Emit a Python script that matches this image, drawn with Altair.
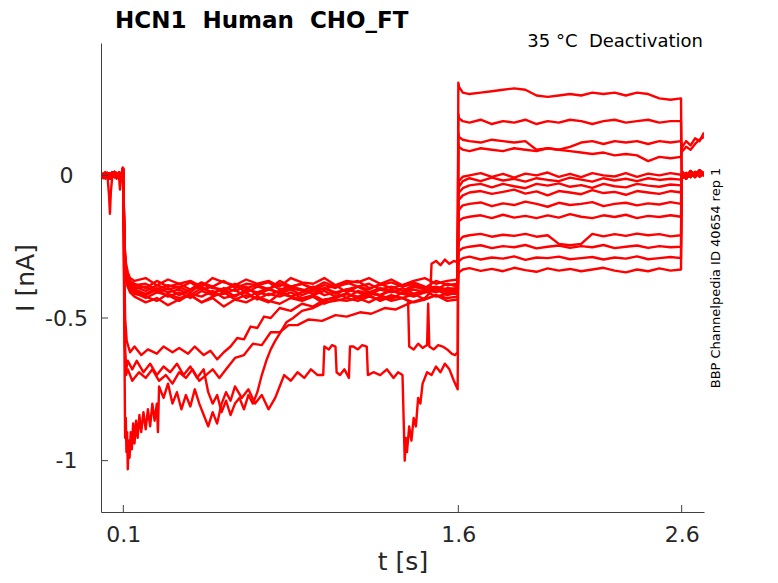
import altair as alt
import pandas as pd

NB = "\u00a0"
title_text = "HCN1" + NB + NB + "Human" + NB + NB + "CHO_FT"
cond_text = "35 °C" + NB + NB + "Deactivation"
side_text = "BBP Channelpedia ID 40654 rep 1"

x_ticks = [0.1, 1.6, 2.6]
y_ticks = [-1.0, -0.5, 0.0]
x_domain = [0.0, 2.7]
y_domain = [-1.18, 0.464]

# ---- holding phase (0 - 0.1 s)
hold_t = [0.0, 0.01, 0.02, 0.03, 0.036, 0.04, 0.044, 0.05, 0.06, 0.07, 0.08, 0.085, 0.09, 0.097]
hold_a = [0.004, -0.008, 0.01, -0.004, 0.006, -0.01, 0.008, -0.006, 0.012, -0.004, 0.01, -0.006, 0.004, 0.015]
hold_b = [-0.006, 0.006, -0.01, 0.008, -0.012, 0.004, -0.008, 0.01, -0.006, 0.008, -0.01, 0.006, -0.004, 0.022]
hold_c = [0.0, -0.01, 0.004, -0.012, -0.07, -0.135, -0.06, -0.008, 0.006, -0.012, 0.004, -0.05, -0.01, 0.028]

# ---- activation phase (0.1 - 1.6 s), traces in the main band
act_t = [0.1, 0.103, 0.107, 0.112, 0.12, 0.13, 0.15,
         0.2, 0.25, 0.3, 0.35, 0.4, 0.45, 0.5,
         0.55, 0.6, 0.65, 0.7, 0.75, 0.8, 0.85,
         0.9, 0.95, 1.0, 1.05, 1.1, 1.15, 1.2,
         1.25, 1.3, 1.35, 1.4, 1.45, 1.5, 1.55,
         1.597]
bundle0 = [0.02, -0.14, -0.26, -0.31, -0.34, -0.36, -0.37,
           -0.36, -0.385, -0.365, -0.38, -0.37, -0.39, -0.36,
           -0.375, -0.385, -0.365, -0.38, -0.37, -0.39, -0.36,
           -0.375, -0.38, -0.36, -0.385, -0.37, -0.375, -0.36,
           -0.38, -0.365, -0.385, -0.37, -0.36, -0.38, -0.37,
           -0.365]
bundle1 = [0.015, -0.15, -0.27, -0.32, -0.35, -0.37, -0.38,
           -0.395, -0.37, -0.39, -0.38, -0.40, -0.375, -0.39,
           -0.37, -0.395, -0.38, -0.385, -0.40, -0.37, -0.39,
           -0.38, -0.395, -0.375, -0.39, -0.38, -0.37, -0.395,
           -0.385, -0.375, -0.39, -0.38, -0.395, -0.37, -0.385,
           -0.38]
bundle2 = [0.02, -0.16, -0.28, -0.33, -0.36, -0.375, -0.385,
           -0.38, -0.40, -0.385, -0.395, -0.375, -0.40, -0.39,
           -0.41, -0.38, -0.395, -0.385, -0.375, -0.40, -0.39,
           -0.38, -0.40, -0.385, -0.395, -0.375, -0.39, -0.40,
           -0.38, -0.395, -0.385, -0.375, -0.39, -0.40, -0.38,
           -0.39]
bundle3 = [0.018, -0.15, -0.28, -0.33, -0.36, -0.38, -0.39,
           -0.405, -0.385, -0.40, -0.39, -0.41, -0.38, -0.395,
           -0.40, -0.385, -0.41, -0.39, -0.40, -0.38, -0.395,
           -0.405, -0.39, -0.40, -0.385, -0.41, -0.39, -0.38,
           -0.40, -0.39, -0.405, -0.385, -0.395, -0.39, -0.40,
           -0.395]
bundle4 = [0.022, -0.17, -0.29, -0.34, -0.37, -0.385, -0.395,
           -0.39, -0.41, -0.395, -0.42, -0.40, -0.39, -0.415,
           -0.395, -0.405, -0.39, -0.42, -0.40, -0.41, -0.39,
           -0.40, -0.415, -0.395, -0.41, -0.40, -0.39, -0.41,
           -0.395, -0.405, -0.415, -0.39, -0.40, -0.41, -0.395,
           -0.40]
bundle5 = [0.02, -0.16, -0.29, -0.34, -0.37, -0.39, -0.40,
           -0.415, -0.395, -0.41, -0.40, -0.42, -0.395, -0.41,
           -0.40, -0.425, -0.40, -0.41, -0.395, -0.415, -0.40,
           -0.42, -0.405, -0.395, -0.415, -0.40, -0.41, -0.42,
           -0.40, -0.41, -0.395, -0.415, -0.405, -0.395, -0.41,
           -0.405]
bundle6 = [0.015, -0.17, -0.30, -0.35, -0.38, -0.395, -0.405,
           -0.42, -0.40, -0.425, -0.41, -0.43, -0.405, -0.42,
           -0.415, -0.40, -0.43, -0.41, -0.42, -0.405, -0.425,
           -0.41, -0.40, -0.42, -0.41, -0.43, -0.405, -0.415,
           -0.42, -0.40, -0.415, -0.425, -0.41, -0.40, -0.42,
           -0.41]
bundle7 = [0.02, -0.18, -0.30, -0.35, -0.38, -0.40, -0.41,
           -0.43, -0.41, -0.42, -0.44, -0.415, -0.425, -0.405,
           -0.43, -0.42, -0.41, -0.435, -0.415, -0.425, -0.41,
           -0.43, -0.42, -0.405, -0.425, -0.415, -0.43, -0.41,
           -0.42, -0.435, -0.41, -0.42, -0.405, -0.425, -0.415,
           -0.415]
bundle8 = [0.025, -0.18, -0.31, -0.36, -0.39, -0.405, -0.415,
           -0.425, -0.44, -0.415, -0.43, -0.42, -0.445, -0.425,
           -0.41, -0.435, -0.42, -0.43, -0.445, -0.415, -0.425,
           -0.435, -0.42, -0.44, -0.425, -0.415, -0.43, -0.42,
           -0.44, -0.425, -0.43, -0.415, -0.435, -0.42, -0.43,
           -0.425]
bundle9 = [0.02, -0.19, -0.31, -0.36, -0.39, -0.41, -0.425,
           -0.445, -0.43, -0.455, -0.435, -0.42, -0.445, -0.43,
           -0.46, -0.435, -0.445, -0.425, -0.44, -0.45, -0.43,
           -0.44, -0.425, -0.45, -0.435, -0.44, -0.43, -0.445,
           -0.425, -0.44, -0.43, -0.445, -0.435, -0.42, -0.44,
           -0.435]

# ---- activation phase, the unstable traces below the band (t, I)
lowA = [(0.1, 0.02), (0.103, -0.25), (0.108, -0.5), (0.115, -0.58), (0.13, -0.62), (0.15, -0.6),
        (0.18, -0.63), (0.21, -0.61), (0.25, -0.625), (0.28, -0.6), (0.32, -0.62), (0.35, -0.605),
        (0.39, -0.625), (0.42, -0.6), (0.46, -0.63), (0.49, -0.615), (0.52, -0.645), (0.55, -0.62),
        (0.58, -0.6), (0.61, -0.57), (0.64, -0.575), (0.67, -0.53), (0.7, -0.535), (0.73, -0.495),
        (0.76, -0.5), (0.8, -0.465), (0.85, -0.475), (0.9, -0.45), (0.95, -0.46), (1.0, -0.435),
        (1.05, -0.43), (1.1, -0.415), (1.15, -0.425), (1.2, -0.41), (1.25, -0.42), (1.3, -0.405),
        (1.35, -0.415), (1.4, -0.4), (1.45, -0.41), (1.5, -0.395), (1.55, -0.405), (1.597, -0.4)]
lowB = [(0.1, 0.02), (0.103, -0.3), (0.107, -0.6), (0.112, -0.7), (0.12, -0.68), (0.14, -0.72),
        (0.17, -0.69), (0.2, -0.71), (0.23, -0.68), (0.26, -0.72), (0.29, -0.7), (0.32, -0.73),
        (0.35, -0.69), (0.38, -0.71), (0.41, -0.68), (0.44, -0.72), (0.47, -0.7), (0.5, -0.68),
        (0.53, -0.71), (0.56, -0.68), (0.6, -0.64), (0.64, -0.63), (0.68, -0.59), (0.72, -0.595),
        (0.76, -0.55), (0.8, -0.55), (0.84, -0.525), (0.88, -0.525), (0.93, -0.505), (0.99, -0.51),
        (1.05, -0.49), (1.1, -0.495), (1.16, -0.48), (1.21, -0.485), (1.27, -0.465), (1.32, -0.47),
        (1.39, -0.445), (1.45, -0.43), (1.475, -0.41), (1.48, -0.31), (1.5, -0.3), (1.52, -0.315),
        (1.54, -0.295), (1.56, -0.31), (1.58, -0.3), (1.597, -0.305)]
lowC = [(0.1, 0.02), (0.104, -0.5), (0.108, -0.92), (0.111, -0.85), (0.114, -0.97), (0.117, -0.9),
        (0.12, -1.03), (0.124, -0.93), (0.128, -0.99), (0.133, -0.9), (0.138, -0.96), (0.144, -0.87),
        (0.15, -0.94), (0.157, -0.86), (0.164, -0.92), (0.172, -0.84), (0.18, -0.9), (0.19, -0.83),
        (0.2, -0.89), (0.21, -0.82), (0.22, -0.88), (0.23, -0.8), (0.24, -0.86), (0.25, -0.8),
        (0.255, -0.9), (0.26, -0.74), (0.28, -0.78), (0.3, -0.73), (0.32, -0.8), (0.34, -0.76),
        (0.36, -0.82), (0.38, -0.77), (0.4, -0.81), (0.42, -0.75), (0.44, -0.8), (0.46, -0.84),
        (0.48, -0.88), (0.5, -0.83), (0.52, -0.87), (0.54, -0.8), (0.56, -0.76), (0.58, -0.79),
        (0.6, -0.74), (0.63, -0.78), (0.66, -0.75), (0.69, -0.8), (0.72, -0.77), (0.75, -0.82),
        (0.78, -0.78), (0.8, -0.74), (0.82, -0.7), (0.85, -0.72), (0.88, -0.69), (0.91, -0.71),
        (0.94, -0.68), (0.97, -0.7), (0.995, -0.7), (1.0, -0.6), (1.02, -0.61), (1.035, -0.595),
        (1.05, -0.6), (1.055, -0.69), (1.07, -0.7), (1.09, -0.68), (1.11, -0.71), (1.115, -0.6),
        (1.13, -0.6), (1.15, -0.61), (1.17, -0.595), (1.19, -0.6), (1.195, -0.7), (1.22, -0.69),
        (1.25, -0.7), (1.28, -0.68), (1.31, -0.71), (1.33, -0.69), (1.35, -0.7), (1.355, -0.85),
        (1.36, -1.0), (1.365, -0.92), (1.37, -0.97), (1.38, -0.88), (1.39, -0.93), (1.4, -0.85),
        (1.41, -0.88), (1.42, -0.78), (1.43, -0.8), (1.44, -0.73), (1.46, -0.69), (1.48, -0.7),
        (1.5, -0.67), (1.52, -0.69), (1.54, -0.66), (1.56, -0.68), (1.58, -0.72), (1.597, -0.75)]
lowD = [(0.1, 0.02), (0.104, -0.4), (0.108, -0.62), (0.113, -0.68), (0.12, -0.65), (0.14, -0.68),
        (0.16, -0.65), (0.19, -0.69), (0.22, -0.66), (0.25, -0.7), (0.28, -0.67), (0.31, -0.69),
        (0.34, -0.66), (0.37, -0.7), (0.4, -0.67), (0.43, -0.71), (0.46, -0.68), (0.48, -0.76),
        (0.5, -0.8), (0.52, -0.77), (0.54, -0.83), (0.56, -0.79), (0.58, -0.84), (0.6, -0.8),
        (0.62, -0.78), (0.64, -0.82), (0.66, -0.77), (0.68, -0.8), (0.7, -0.76), (0.72, -0.7),
        (0.74, -0.65), (0.76, -0.61), (0.78, -0.58), (0.8, -0.555), (0.83, -0.515), (0.86, -0.5),
        (0.9, -0.475), (0.95, -0.465), (1.0, -0.445), (1.05, -0.44), (1.1, -0.43), (1.15, -0.44),
        (1.2, -0.425), (1.25, -0.435), (1.3, -0.42), (1.35, -0.43), (1.375, -0.44), (1.38, -0.6),
        (1.4, -0.61), (1.42, -0.59), (1.44, -0.605), (1.46, -0.595), (1.465, -0.45), (1.47, -0.6),
        (1.49, -0.61), (1.51, -0.595), (1.53, -0.6), (1.55, -0.61), (1.57, -0.625), (1.585, -0.63),
        (1.597, -0.62)]

# ---- test (deactivation) phase (1.6 - 2.6 s)
test_t = [1.6, 1.603, 1.62,
          1.65, 1.7, 1.75, 1.8, 1.85, 1.9, 1.95, 2.0, 2.05, 2.1,
          2.15, 2.2, 2.25, 2.3, 2.35, 2.4, 2.45, 2.5, 2.55,
          2.597]
T0 = [0.325, 0.31, 0.29,
      0.285, 0.29, 0.295, 0.30, 0.305, 0.30, 0.28, 0.275, 0.28, 0.285,
      0.28, 0.29, 0.285, 0.29, 0.28, 0.29, 0.285, 0.27, 0.265,
      0.27]
T1 = [0.215, 0.20, 0.19,
      0.185, 0.195, 0.18, 0.19, 0.185, 0.195, 0.18, 0.19, 0.185, 0.195,
      0.19, 0.18, 0.19, 0.195, 0.185, 0.19, 0.195, 0.185, 0.19,
      0.19]
T2 = [0.15, 0.135, 0.125,
      0.12, 0.115, 0.125, 0.12, 0.115, 0.12, 0.09, 0.095, 0.09, 0.10,
      0.115, 0.12, 0.11, 0.12, 0.115, 0.12, 0.11, 0.12, 0.115,
      0.12]
T3 = [0.11, 0.10, 0.09,
      0.085, 0.095, 0.09, 0.085, 0.095, 0.09, 0.085, 0.095, 0.09, 0.085,
      0.08, 0.075, 0.08, 0.07, 0.075, 0.07, 0.05, 0.065, 0.06,
      0.065]
T4 = [-0.04, -0.02, -0.005,
      0.0, 0.008, -0.005, 0.005, -0.008, 0.006, 0.0, 0.01, -0.005, 0.005,
      -0.006, 0.008, 0.0, -0.004, 0.008, -0.005, 0.006, 0.0, 0.008,
      0.002]
T5 = [-0.06, -0.04, -0.02,
      -0.01, -0.02, -0.008, -0.018, -0.012, -0.022, -0.01, -0.016, -0.02, -0.008,
      -0.015, -0.022, -0.01, -0.018, -0.012, -0.02, -0.01, -0.016, -0.012,
      -0.015]
T6 = [-0.08, -0.06, -0.045,
      -0.035, -0.03, -0.042, -0.03, -0.038, -0.045, -0.03, -0.036, -0.028, -0.04,
      -0.034, -0.044, -0.03, -0.038, -0.042, -0.03, -0.036, -0.04, -0.032,
      -0.035]
T7 = [-0.10, -0.085, -0.07,
      -0.06, -0.055, -0.065, -0.058, -0.05, -0.064, -0.056, -0.07, -0.055, -0.06,
      -0.066, -0.052, -0.062, -0.058, -0.068, -0.055, -0.06, -0.065, -0.055,
      -0.06]
T8 = [-0.14, -0.12, -0.105,
      -0.10, -0.095, -0.108, -0.098, -0.104, -0.092, -0.10, -0.11, -0.096, -0.104,
      -0.10, -0.094, -0.108, -0.10, -0.096, -0.105, -0.098, -0.102, -0.094,
      -0.10]
T9 = [-0.18, -0.16, -0.15,
      -0.145, -0.14, -0.15, -0.138, -0.148, -0.142, -0.15, -0.14, -0.148, -0.136,
      -0.145, -0.15, -0.14, -0.146, -0.138, -0.15, -0.142, -0.146, -0.14,
      -0.145]
T10 = [-0.25, -0.23, -0.215,
       -0.21, -0.205, -0.215, -0.208, -0.212, -0.205, -0.215, -0.21, -0.24, -0.245,
       -0.24, -0.205, -0.214, -0.206, -0.212, -0.204, -0.21, -0.206, -0.214,
       -0.21]
T11 = [-0.28, -0.265, -0.255,
       -0.25, -0.245, -0.255, -0.248, -0.252, -0.244, -0.256, -0.25, -0.246, -0.254,
       -0.248, -0.252, -0.244, -0.255, -0.25, -0.246, -0.254, -0.248, -0.252,
       -0.25]
T12 = [-0.32, -0.30, -0.29,
       -0.285, -0.295, -0.288, -0.292, -0.284, -0.296, -0.288, -0.29, -0.285, -0.294,
       -0.29, -0.286, -0.295, -0.288, -0.292, -0.284, -0.294, -0.29, -0.286,
       -0.29]
T13 = [-0.35, -0.34, -0.33,
       -0.325, -0.335, -0.328, -0.336, -0.324, -0.332, -0.338, -0.326, -0.334, -0.328,
       -0.336, -0.33, -0.324, -0.334, -0.34, -0.33, -0.336, -0.326, -0.334,
       -0.33]

# ---- after the test pulse (2.6 - 2.7 s)
tail_t = [2.6, 2.603, 2.62, 2.64, 2.66, 2.68, 2.7]
tail_a = [0.005, -0.01, 0.008, -0.006, 0.012, -0.004, 0.01]
tail_b = [-0.01, 0.006, -0.012, 0.01, -0.006, 0.014, -0.002]
tail_c = [0.0, 0.012, -0.004, 0.015, 0.002, 0.018, 0.006]
tail_p = [0.11, 0.1, 0.12, 0.105, 0.13, 0.12, 0.15]
tail_q = [0.095, 0.085, 0.1, 0.09, 0.11, 0.125, 0.135]

# sweep composition: (holding, activation, test, tail)
sweeps = [
    (hold_a, bundle0, T0, tail_a),
    (hold_b, bundle1, T1, tail_b),
    (hold_a, lowD, T2, tail_p),
    (hold_b, bundle2, T3, tail_q),
    (hold_a, bundle3, T4, tail_c),
    (hold_b, lowA, T5, tail_a),
    (hold_c, bundle4, T6, tail_b),
    (hold_a, bundle5, T7, tail_c),
    (hold_b, lowB, T8, tail_a),
    (hold_a, bundle6, T9, tail_b),
    (hold_b, bundle7, T10, tail_c),
    (hold_a, lowC, T11, tail_a),
    (hold_b, bundle8, T12, tail_b),
    (hold_a, bundle9, T13, tail_c),
]

rows = []
for k, (h, act, tst, tl) in enumerate(sweeps):
    if isinstance(act[0], tuple):
        at = [p[0] for p in act]
        ai = [p[1] for p in act]
    else:
        at, ai = act_t, act
    assert len(h) == len(hold_t) and len(at) == len(ai)
    assert len(tst) == len(test_t) and len(tl) == len(tail_t), k
    ts = hold_t + at + test_t + tail_t
    vs = h + ai + tst + tl
    for j, (t, v) in enumerate(zip(ts, vs)):
        rows.append({"trace": k, "seq": j, "t": t, "i": v})
df = pd.DataFrame(rows)

FONT = "DejaVu Sans"
AX = "#404040"
xs = alt.Scale(domain=x_domain, nice=False, zero=False)
ys = alt.Scale(domain=y_domain, nice=False, zero=False)
x_axis = alt.Axis(values=x_ticks, title="t [s]", labelExpr="toString(datum.value)", ticks=False,
                  grid=False, labelPadding=12, labelFontSize=22, labelFont=FONT, labelColor="#262626",
                  titleFontSize=25, titleFont=FONT, titleFontWeight="normal", titleColor="#262626",
                  titlePadding=4, domainColor=AX, labelFlush=False)
y_axis = alt.Axis(values=y_ticks, title="I [nA]", labelExpr="toString(datum.value)", ticks=False,
                  grid=False, labelPadding=35, labelAlign="center", labelBaseline="middle",
                  labelFontSize=22, labelFont=FONT, labelColor="#262626",
                  titleFontSize=25, titleFont=FONT, titleFontWeight="normal", titleColor="#262626",
                  titlePadding=6, domainColor=AX)

lines = alt.Chart(df).mark_line(color="#ff0000", strokeWidth=2.4, strokeJoin="round", clip=True).encode(
    x=alt.X("t:Q", scale=xs, axis=x_axis),
    y=alt.Y("i:Q", scale=ys, axis=y_axis),
    detail="trace:N",
    order="seq:Q",
)

xt = alt.Chart(pd.DataFrame({"t": x_ticks})).mark_rule(color=AX, strokeWidth=1).encode(
    x=alt.X("t:Q", scale=xs, axis=x_axis), y=alt.value(469), y2=alt.value(462))
yt = alt.Chart(pd.DataFrame({"i": y_ticks})).mark_rule(color=AX, strokeWidth=1).encode(
    y=alt.Y("i:Q", scale=ys, axis=y_axis), x=alt.value(0), x2=alt.value(7))

title_mark = alt.Chart(pd.DataFrame({"s": [title_text]})).mark_text(
    font=FONT, fontSize=23, fontWeight="bold", align="left", baseline="alphabetic", color="black"
).encode(x=alt.value(14), y=alt.value(-15), text="s:N")
cond_mark = alt.Chart(pd.DataFrame({"s": [cond_text]})).mark_text(
    font=FONT, fontSize=18, align="right", baseline="alphabetic", color="black"
).encode(x=alt.value(602), y=alt.value(4), text="s:N")
side_mark = alt.Chart(pd.DataFrame({"s": [side_text]})).mark_text(
    font=FONT, fontSize=13, align="center", baseline="middle", angle=270, color="black"
).encode(x=alt.value(615), y=alt.value(235), text="s:N")

chart = alt.layer(lines, xt, yt, title_mark, cond_mark, side_mark).properties(
    width=603, height=469,
    autosize=alt.AutoSizeParams(type="none"),
    padding={"left": 93, "top": 35, "right": 66, "bottom": 63},
    background="white",
).configure_view(stroke=None)

chart.save("out.html", embed_options={"renderer": "svg", "actions": False})
